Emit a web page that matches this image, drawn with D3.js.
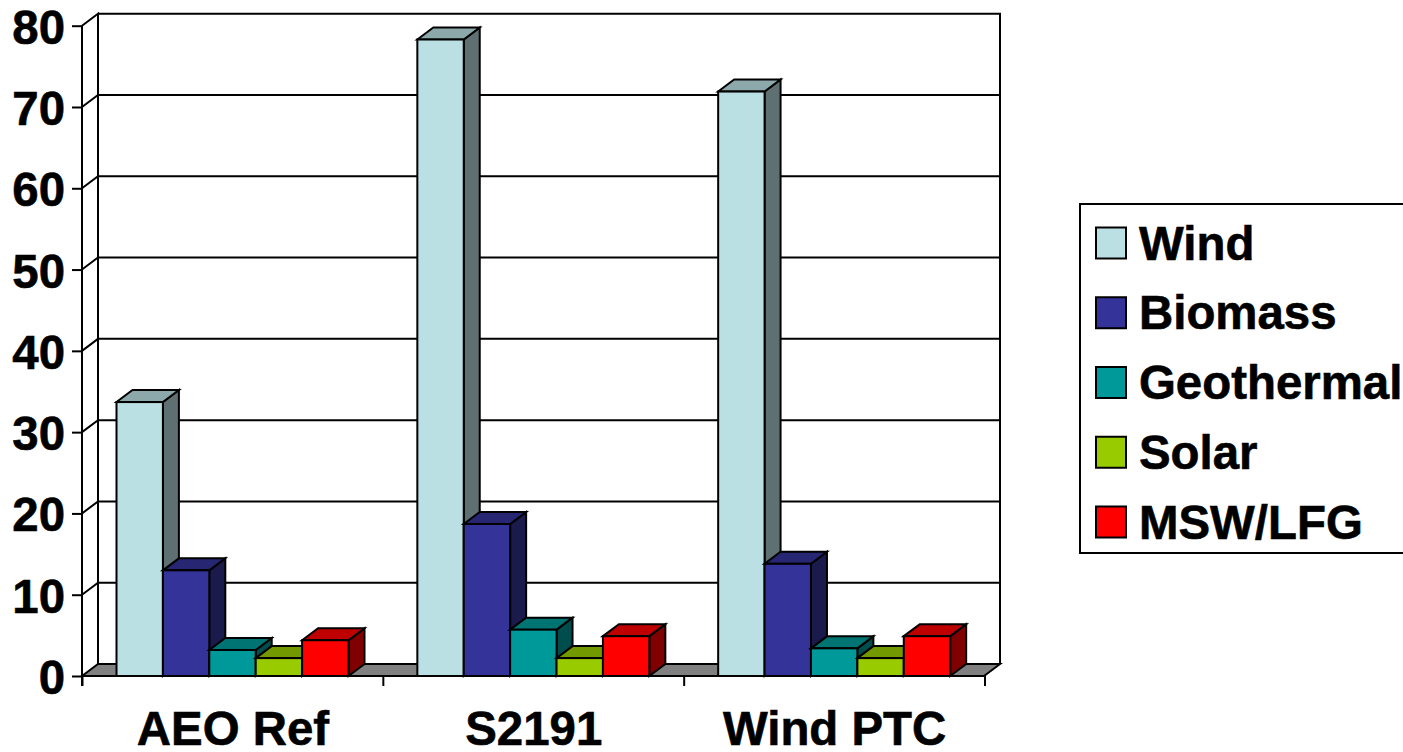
<!DOCTYPE html>
<html><head><meta charset="utf-8">
<script src="https://cdn.jsdelivr.net/npm/d3@7/dist/d3.min.js"></script>
<style>html,body{margin:0;padding:0;background:#fff}svg{display:block}text{font-family:"Liberation Sans",Arial,sans-serif;font-weight:700;fill:#000;stroke:#000;stroke-width:0.6px}</style>
</head><body><svg id="c" width="1403" height="752"></svg>
<script>
const categories = ["AEO Ref","S2191","Wind PTC"];
const seriesNames = ["Wind","Biomass","Geothermal","Solar","MSW/LFG"];
const wind = [33.7,78.3,71.9];
const biomass = [13.0,18.7,13.8];
const geothermal = [3.2,5.7,3.4];
const solar = [2.2,2.2,2.2];
const msw = [4.4,4.9,4.9];
const seriesValues = [wind,biomass,geothermal,solar,msw];
const frontColors = ["#BBE0E3","#333399","#009999","#99CC00","#FF0000"];
const topColors = ["#8CA8AA","#262673","#007373","#739900","#BF0000"];
const sideColors = ["#5E7072","#1A1A4D","#004D4D","#4D6600","#800000"];
const yTicks = [0,10,20,30,40,50,60,70,80];

const svg = d3.select("#c");
const dx = 16, dy = -12, sw = 2, fs = 47.4;
const x = d3.scaleBand().domain(categories).range([82.5,985]);
const y = d3.scaleLinear().domain([0,80]).range([676,25.7]);
const inner = d3.scaleBand().domain(seriesNames).range([34,266]);
const poly = p => p.join(" ");

// walls
svg.append("polygon").attr("points",poly([[82,676],[82+dx,676+dy],[984+dx,676+dy],[984,676]])).attr("fill","#808080").attr("stroke","#000").attr("stroke-width",sw);
svg.append("polyline").attr("points",poly([[82,y(80)],[82+dx,y(80)+dy],[82+dx,676+dy]])).attr("fill","none").attr("stroke","#000").attr("stroke-width",sw);
svg.append("polyline").attr("points",poly([[82+dx,y(80)+dy],[984+dx,y(80)+dy],[984+dx,676+dy]])).attr("fill","none").attr("stroke","#000").attr("stroke-width",sw);
svg.selectAll(".grid").data(yTicks.slice(1,-1)).join("polyline").attr("class","grid")
  .attr("points",d=>poly([[82,y(d)],[82+dx,y(d)+dy],[984+dx,y(d)+dy]]))
  .attr("fill","none").attr("stroke","#000").attr("stroke-width",sw);

// bars
categories.forEach((c,ci)=>{
  seriesNames.forEach((s,si)=>{
    const v = seriesValues[si][ci];
    const x0 = x(c)+inner(s), x1 = x0+inner.bandwidth(), yt = y(v), yb = y(0);
    const g = svg.append("g").attr("stroke","#000").attr("stroke-width",sw).attr("stroke-linejoin","miter");
    g.append("polygon").attr("points",poly([[x1,yb],[x1+dx,yb+dy],[x1+dx,yt+dy],[x1,yt]])).attr("fill",sideColors[si]);
    g.append("polygon").attr("points",poly([[x0,yt],[x0+dx,yt+dy],[x1+dx,yt+dy],[x1,yt]])).attr("fill",topColors[si]);
    g.append("rect").attr("x",x0).attr("y",yt).attr("width",x1-x0).attr("height",yb-yt).attr("fill",frontColors[si]);
  });
});

// axes
const yAxis = d3.axisLeft(y).tickValues(yTicks).tickSize(10).tickPadding(6).tickFormat(d3.format("d"));
const gy = svg.append("g").attr("transform","translate(82,0)").call(yAxis);
gy.select(".domain").attr("stroke","#000").attr("stroke-width",sw).attr("d",`M0,${y(80)}V686`);
gy.selectAll(".tick line").attr("stroke","#000").attr("stroke-width",sw);
gy.selectAll(".tick text").attr("font-size",fs).attr("font-family",null).style("font-family",'"Liberation Sans",Arial,sans-serif').style("font-weight",700).attr("dy","0.37em").attr("x",-17);

const edges = categories.map(c=>x(c)).concat([x.range()[1]]);
svg.append("line").attr("x1",82).attr("x2",984).attr("y1",676).attr("y2",676).attr("stroke","#000").attr("stroke-width",sw);
svg.selectAll(".xt").data(edges).join("line").attr("class","xt").attr("x1",d=>d).attr("x2",d=>d).attr("y1",676).attr("y2",686).attr("stroke","#000").attr("stroke-width",sw);
svg.selectAll(".xl").data(categories).join("text").attr("class","xl")
  .attr("x",d=>x(d)+x.bandwidth()/2).attr("y",745).attr("text-anchor","middle").attr("font-size",fs).text(d=>d);

// legend
const ly = d3.scalePoint().domain(seriesNames).range([243,522]);
svg.append("rect").attr("x",1080).attr("y",204).attr("width",340).attr("height",349).attr("fill","#fff").attr("stroke","#000").attr("stroke-width",sw);
const lg = svg.selectAll(".lg").data(seriesNames).join("g").attr("class","lg");
lg.append("rect").attr("x",1096).attr("y",d=>ly(d)-15.5).attr("width",30).attr("height",31).attr("fill",(d,i)=>frontColors[i]).attr("stroke","#000").attr("stroke-width",sw);
lg.append("text").attr("x",1139).attr("y",d=>ly(d)+16.5).attr("font-size",fs).text(d=>d);
</script></body></html>
